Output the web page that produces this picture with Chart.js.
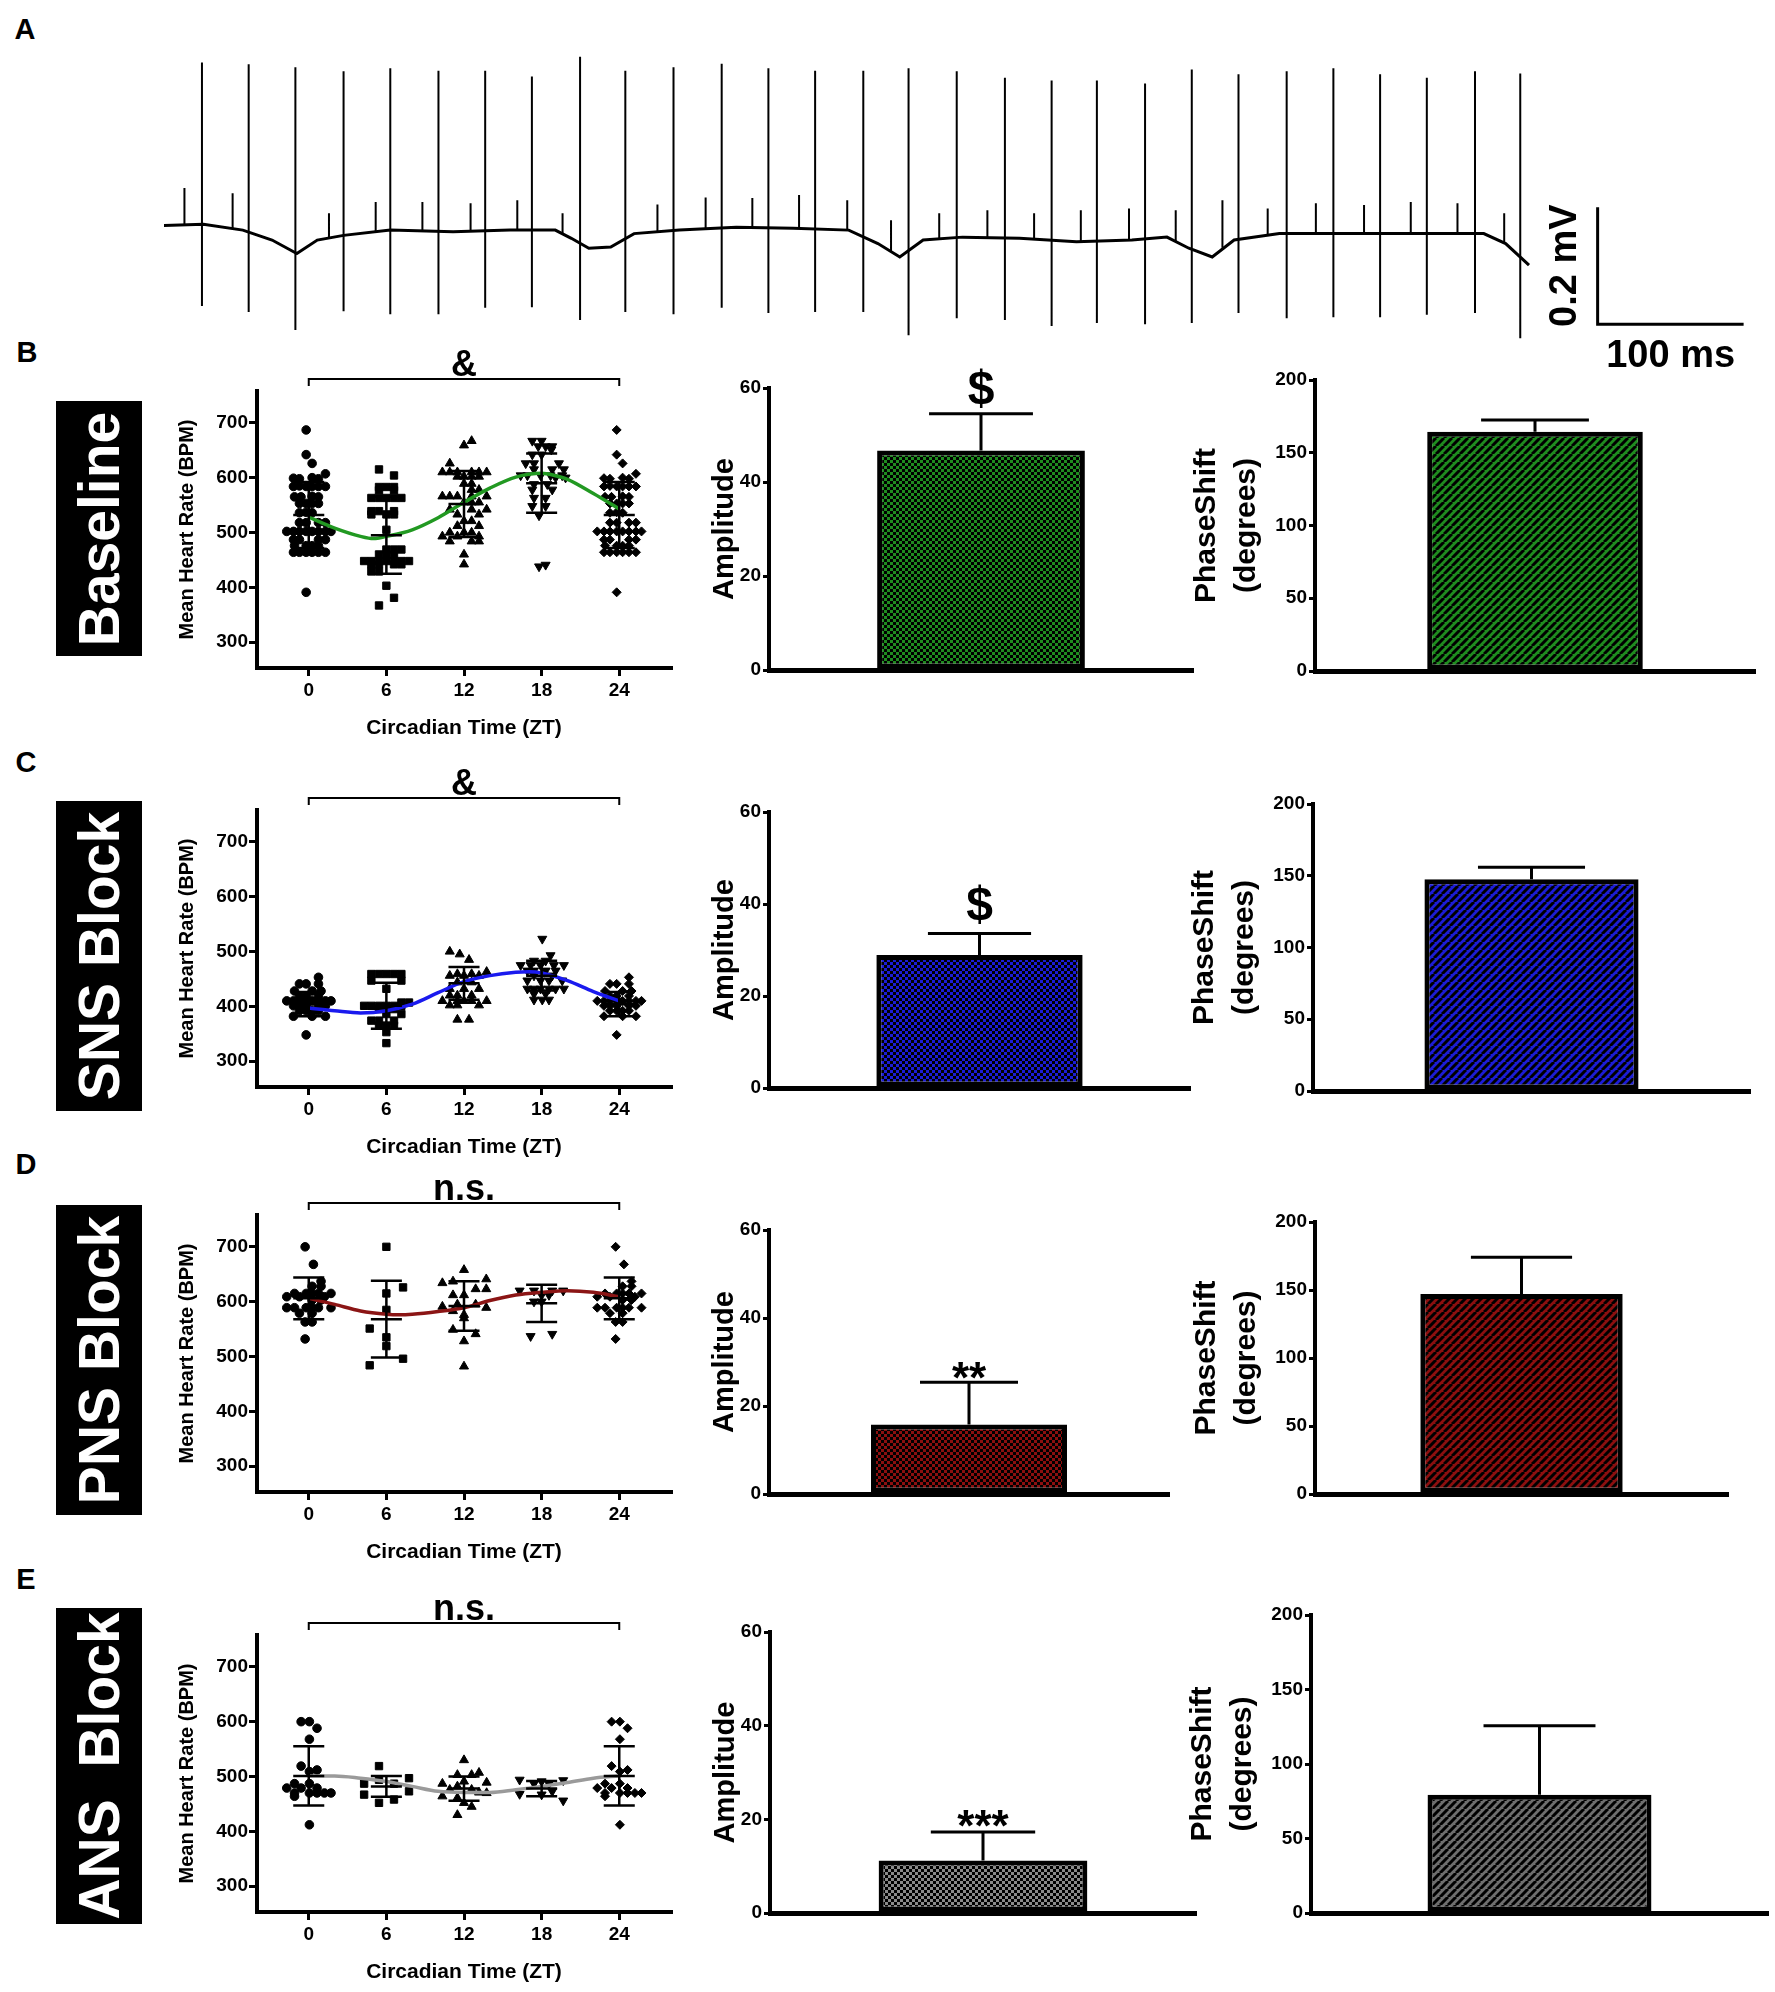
<!DOCTYPE html>
<html>
<head>
<meta charset="utf-8">
<script src="https://cdn.jsdelivr.net/npm/chart.js@4.4.1/dist/chart.umd.min.js"></script>
<style>
  html, body { margin: 0; padding: 0; background: #fff; }
  #fig { position: relative; width: 1775px; height: 1992px; overflow: hidden;
         font-family: "Liberation Sans", Arial, sans-serif; color: #000; }
  #fig canvas { position: absolute; }
  .letter { position: absolute; font-weight: bold; font-size: 29px; transform: translate(-50%, -50%); }
  .tag { position: absolute; background: #000; }
  .tag span { position: absolute; left: 50%; top: 50%; color: #fff; font-weight: bold; font-size: 57px;
              white-space: pre; transform: translate(-50%, -50%) rotate(-90deg); }
</style>
</head>
<body>
<div id="fig"></div>
<script>
// ---------- panel A: ECG trace (time in ms, voltage in mV) ----------
const ecgBeatTimes = [26, 58, 90, 123, 155, 188, 220, 252, 285, 316, 349, 382, 414, 446, 479,
                      510, 543, 576, 608, 639, 672, 704, 736, 769, 801, 833, 865, 898, 929];
const ecgBeatTops = [0.282, 0.279, 0.274, 0.267, 0.272, 0.268, 0.268, 0.258, 0.292, 0.268, 0.274, 0.280, 0.272, 0.268, 0.268,
                     0.272, 0.267, 0.256, 0.251, 0.251, 0.246, 0.270, 0.262, 0.267, 0.272, 0.262, 0.256, 0.267, 0.263];
const ecgBeatBottoms = [-0.135, -0.145, -0.176, -0.144, -0.149, -0.149, -0.138, -0.137, -0.159, -0.145, -0.149, -0.138, -0.147, -0.145, -0.145,
                        -0.185, -0.156, -0.159, -0.169, -0.164, -0.166, -0.164, -0.147, -0.156, -0.154, -0.154, -0.150, -0.147, -0.190];
// small waves between beats: time, foot and peak
const ecgBlipTimes = [14, 47, 113, 145, 177, 210, 242, 273, 338, 371, 403, 435, 468, 498,
                      531, 564, 596, 628, 661, 693, 725, 756, 789, 822, 854, 886, 918];
const ecgBlipBases = [0.004, -0.002, -0.018, -0.008, -0.006, -0.007, -0.005, -0.010, -0.008, -0.003, 0, -0.003, -0.005, -0.042,
                      -0.020, -0.018, -0.020, -0.025, -0.022, -0.025, -0.035, -0.013, -0.011, -0.011, -0.011, -0.011, -0.027];
const ecgBlipTops = [0.067, 0.058, 0.024, 0.043, 0.043, 0.041, 0.046, 0.024, 0.039, 0.051, 0.050, 0.055, 0.046, 0.012,
                     0.024, 0.029, 0.024, 0.029, 0.032, 0.029, 0.046, 0.032, 0.041, 0.038, 0.043, 0.041, 0.024];
const ecgBaseline = [[0, 0.003], [27, 0.005], [54, -0.005], [74, -0.022], [91, -0.045], [105, -0.022], [123, -0.014],
                     [155, -0.005], [198, -0.008], [237, -0.005], [268, -0.005], [279, -0.019], [291, -0.036], [306, -0.034],
                     [322, -0.011], [353, -0.005], [392, 0], [431, -0.002], [469, -0.005], [489, -0.028], [504, -0.051],
                     [520, -0.022], [547, -0.017], [586, -0.019], [625, -0.025], [663, -0.022], [687, -0.017], [702, -0.036],
                     [718, -0.051], [733, -0.022], [764, -0.011], [818, -0.011], [881, -0.011], [904, -0.011], [919, -0.028], [935, -0.065]];
const scaleBar = [[982, 0.034], [982, -0.166], [1082, -0.166]];
const scaleBarLabels = ['0.2 mV', '100 ms'];

// ---------- panels B-E: heart rate by circadian time ----------
const ztTicks = [0, 6, 12, 18, 24];
const hrTicks = [300, 400, 500, 600, 700];
// each point: [horizontal spread in ZT units as plotted, BPM]
const blZT0 = [[-0.2, 687], [-0.2, 642], [0.26, 626], [1.29, 607], [-1.18, 599], [-0.72, 598], [0.26, 600], [0.75, 598],
  [-1.18, 584], [-0.72, 585], [-0.2, 584], [0.26, 584], [0.75, 584], [1.29, 584], [-1.1, 565], [-0.6, 565], [0.26, 566], [0.75, 565],
  [-0.72, 553], [-0.2, 553], [0.26, 553], [0.75, 553], [-0.72, 536], [-0.2, 537], [0.26, 536],
  [-0.72, 518], [-0.2, 518], [0.75, 518], [1.29, 518], [-1.7, 502], [-1.18, 502], [-0.72, 502], [-0.2, 502], [0.26, 502], [0.75, 502], [1.29, 502], [1.72, 502],
  [-1.18, 487], [-0.72, 487], [0.75, 487], [1.29, 487], [-1.1, 476], [-0.2, 476], [0.26, 476], [0.75, 476],
  [-1.18, 464], [-0.72, 464], [-0.2, 464], [0.26, 464], [0.75, 464], [1.29, 464], [-0.2, 391]];
const blZT6 = [[-0.57, 615], [0.59, 604], [-0.57, 583], [0, 583], [0.59, 583], [-0.57, 577], [0.59, 577],
  [-1.16, 563], [-0.57, 563], [0, 563], [0.59, 563], [1.16, 563], [-1.16, 539], [-0.57, 539], [0.59, 539],
  [-1.16, 533], [0, 533], [0.59, 533], [0, 505], [0, 469], [0.59, 469], [1.16, 469], [-0.57, 460], [0, 460], [0.59, 460],
  [-1.72, 448], [-1.16, 448], [-0.57, 448], [0, 448], [0.59, 448], [1.16, 448], [1.75, 448],
  [-1.16, 442], [-0.57, 442], [0.59, 442], [1.16, 442], [-1.16, 429], [-0.57, 429], [0, 403], [0.59, 381], [-0.57, 367]];
const blZT12 = [[0.59, 667], [0, 659], [-1.1, 626], [-1.67, 610], [-1.1, 610], [-0.51, 610], [0.59, 610], [1.16, 610], [1.75, 610],
  [-0.51, 602], [0, 602], [0.59, 602], [1.16, 602], [0, 589], [0.59, 589], [0.59, 578], [1.16, 578],
  [-1.67, 566], [-1.1, 566], [-0.51, 566], [0.59, 566], [1.75, 566], [0, 555], [0.59, 555], [1.16, 555],
  [-1.1, 542], [0.59, 542], [1.75, 542], [-0.51, 533], [1.16, 533], [0, 521], [0.59, 521], [-0.51, 512], [1.16, 512],
  [-1.1, 500], [0, 500], [0.59, 500], [-1.67, 493], [-0.51, 493], [1.16, 493], [-1.1, 484], [0.59, 484], [1.16, 484], [0, 460], [0, 442]];
const blZT18 = [[-0.72, 667], [0, 667], [-0.26, 657], [0.31, 657], [0.82, 657], [0.75, 651], [-0.72, 642], [0, 642],
  [-1.23, 626], [-0.59, 626], [1.34, 626], [-0.59, 615], [0.82, 615], [1.72, 615],
  [-1.62, 604], [-1.1, 604], [-0.08, 604], [0.69, 604], [1.59, 604], [1.08, 600], [1.85, 600],
  [-0.59, 588], [0.44, 588], [-0.72, 578], [0.82, 578], [-0.59, 563], [0.31, 563], [-0.72, 548], [0.31, 548],
  [-0.2, 531], [-0.2, 438], [0.31, 441]];
const blFit = [[0, 528], [2, 508], [4, 493], [5, 489], [6, 493], [8, 505], [10, 527], [12, 555], [14, 581],
  [16, 601], [18, 608], [19, 604], [20, 597], [22, 571], [24, 543]];
const blMean = [532, 495, 552, 590, 532];
const blSD = [60, 70, 60, 54, 60];

const snsZT0 = [[0.75, 453], [-0.72, 441], [-0.2, 441], [0.75, 441], [-1.1, 428], [0.26, 428], [0.95, 428],
  [-0.72, 419], [-0.2, 419], [0.75, 419], [-1.7, 410], [-1.18, 410], [-0.72, 410], [-0.2, 410], [0.26, 410], [0.75, 410], [1.29, 410], [1.72, 410],
  [-1.18, 401], [-0.72, 401], [-0.2, 401], [0.75, 401], [1.29, 401], [-0.72, 392], [-0.2, 392], [0.26, 392], [0.75, 392],
  [-1.18, 382], [0.26, 382], [1.29, 382], [-0.2, 348]];
const snsZT6 = [[-1.16, 459], [-0.57, 459], [0, 459], [0.59, 459], [1.16, 459], [-1.16, 447], [1.16, 447], [0, 432],
  [1.16, 407], [1.75, 407], [-1.72, 401], [-1.16, 401], [-0.57, 401], [0, 401], [0.59, 401], [1.16, 401],
  [-0.57, 395], [0.59, 395], [0, 386], [1.16, 386], [-1.16, 374], [-0.57, 374], [0.59, 374],
  [-0.57, 365], [0, 365], [0.59, 365], [0, 353], [0, 333]];
const snsZT12 = [[-1.1, 500], [-0.33, 495], [0.39, 485], [1.75, 463], [-0.51, 459], [0.59, 459], [-1.1, 456], [0, 456], [1.16, 456],
  [-0.51, 444], [0.59, 444], [-1.1, 432], [0, 432], [1.16, 432], [-1.1, 420], [-0.51, 420], [0.59, 420],
  [-1.67, 410], [-0.51, 410], [0, 410], [0.59, 410], [1.75, 410], [-1.1, 402], [-0.51, 402], [1.16, 402], [-0.51, 376], [0.39, 376]];
const snsZT18 = [[0.05, 523], [0.69, 493], [-0.59, 483], [0.31, 483], [-1.62, 475], [-0.85, 475], [-0.08, 475], [0.95, 475], [1.72, 475],
  [-1.1, 465], [-0.59, 465], [0.31, 465], [1.08, 465], [-0.59, 456], [0.82, 456], [-1.1, 447], [-0.08, 447], [0.57, 447], [1.59, 447],
  [-1.1, 432], [-0.59, 432], [-0.08, 432], [0.57, 432], [1.08, 432], [1.72, 432], [-0.59, 423], [0.31, 423],
  [-0.59, 412], [0.05, 412], [0.57, 412]];
const snsFit = [[0, 397], [2, 392], [4, 388], [6, 392], [8, 404], [10, 425], [12, 445], [14, 456], [16, 462],
  [17, 463], [18, 461], [20, 447], [22, 427], [24, 410]];
const snsMean = [404, 401, 442, 456, 404];
const snsSD = [22, 42, 30, 27, 22];

const pnsZT0 = [[-0.28, 700], [0.36, 668], [0.95, 637], [0.26, 628], [0.95, 628], [-1.1, 615], [-0.2, 615], [0.26, 615], [0.75, 615], [1.72, 615],
  [-1.7, 609], [-0.72, 609], [1.21, 609], [0.26, 603], [0.95, 603], [-1.7, 589], [-1.1, 589], [-0.2, 589], [0.26, 589], [0.75, 589], [1.72, 589],
  [-0.72, 579], [0.26, 579], [-0.28, 563], [0.26, 563], [-0.28, 532]];
const pnsZT6 = [[0, 700], [1.29, 626], [0, 615], [0, 585], [-1.29, 551], [0, 535], [0, 519], [1.29, 496], [-1.29, 484]];
const pnsZT12 = [[0, 658], [-1.67, 634], [-0.85, 637], [1.72, 641], [0.9, 623], [1.72, 623], [-0.85, 612], [0, 612],
  [-1.67, 591], [-0.51, 595], [0.9, 595], [1.72, 589], [-0.85, 583], [0, 576], [0, 570], [-0.85, 549], [0.9, 541], [0, 528], [0, 482]];
const pnsZT18 = [[-1.7, 620], [-0.59, 620], [0.82, 620], [1.67, 620], [0, 612], [0.57, 612], [-0.59, 600], [0, 600], [-0.85, 537], [0.82, 541]];
const pnsFit = [[0, 606], [2, 595], [4, 583], [6, 577], [7, 576], [8, 577], [10, 582], [12, 589], [14, 602],
  [16, 612], [18, 617], [20, 620], [22, 617], [24, 609]];
const pnsMean = [606, 568, 592, 597, 606];
const pnsSD = [38, 70, 45, 34, 38];

const ansZT0 = [[-0.59, 600], [0.05, 600], [0.64, 588], [0.05, 568], [-0.59, 519], [0.64, 512], [0.05, 509], [-1.1, 487], [0.05, 487],
  [-1.7, 479], [-0.59, 479], [0.64, 479], [-1.1, 470], [0.05, 470], [0.64, 470], [1.21, 470], [1.72, 470], [-1.1, 464], [0.05, 412]];
const ansZT6 = [[-0.57, 519], [-0.57, 494], [1.75, 497], [-1.72, 487], [0.59, 487], [-1.72, 467], [1.75, 473], [-0.57, 452], [0.59, 458]];
const ansZT12 = [[0, 530], [-0.51, 503], [0.59, 503], [1.16, 507], [-1.67, 487], [0, 491], [1.75, 489], [-1.1, 476], [0.59, 476], [-0.51, 482],
  [-1.67, 464], [1.16, 471], [1.75, 470], [-0.51, 461], [0, 452], [0.59, 445], [-0.51, 430]];
const ansZT18 = [[-1.7, 494], [-0.59, 487], [0, 491], [0.57, 487], [1.67, 493], [-1.7, 468], [0.82, 473], [0, 467], [1.67, 456]];
const ansFit = [[0, 501], [2, 501], [4, 497], [6, 491], [8, 482], [10, 473], [12, 471], [14, 471], [16, 476],
  [18, 482], [20, 489], [22, 497], [24, 501]];
const ansMean = [501, 482, 478, 478, 501];
const ansSD = [54, 19, 22, 14, 54];

// ---------- amplitude and phase shift bars (mean, upper error) ----------
const ampTicks = [0, 20, 40, 60];
const phaseTicks = [0, 50, 100, 150, 200];
const ampValue = [46.7, 28.9, 15.8, 11.2];
const ampErr = [7.8, 4.7, 9.6, 6.1];
const ampMarks = ['$', '$', '**', '***'];
const phaseValue = [164.4, 147.6, 147.0, 79.3];
const phaseErr = [8.1, 8.4, 27.0, 46.3];
const rhythmMarks = ['&', '&', 'n.s.', 'n.s.'];
const rowNames = ['Baseline', 'SNS Block', 'PNS Block', 'ANS  Block'];
const rowLetters = ['B', 'C', 'D', 'E'];

// ---------- layout and styling (page pixels) ----------
const rowLayout = [
  { scatter: [257, 391, 671, 668], amp: [769, 388, 1193, 670], phase: [1315, 380, 1755, 671], tag: [56, 401, 86, 255], letter: [27, 352], markDy: -10 },
  { scatter: [257, 810, 671, 1087], amp: [769, 812, 1190, 1088], phase: [1313, 804, 1750, 1091], tag: [56, 801, 86, 310], letter: [26, 762], markDy: -13 },
  { scatter: [257, 1215, 671, 1492], amp: [769, 1230, 1169, 1494], phase: [1315, 1222, 1728, 1494], tag: [56, 1205, 86, 310], letter: [26, 1164], markDy: 11 },
  { scatter: [257, 1635, 671, 1912], amp: [770, 1632, 1196, 1913], phase: [1311, 1615, 1768, 1913], tag: [56, 1608, 86, 316], letter: [26, 1579], markDy: 9 },
];
const rowColors = [
  { fill: '#1f8c1f', line: '#229922' },
  { fill: '#1c1cd6', line: '#1a1aee' },
  { fill: '#8c0f0f', line: '#8b1515' },
  { fill: '#8a8a8a', stripe: '#6e6e6e', line: '#9a9a9a' },
];
const markers = [
  { pointStyle: 'circle', pointRadius: 4.3, pointRotation: 0 },
  { pointStyle: 'rect', pointRadius: 5.2, pointRotation: 0 },
  { pointStyle: 'triangle', pointRadius: 5.2, pointRotation: 0 },
  { pointStyle: 'triangle', pointRadius: 5.2, pointRotation: 180 },
  { pointStyle: 'rectRot', pointRadius: 4.5, pointRotation: 0 },
];
const FONT = "'Liberation Sans', Arial, sans-serif";

Chart.defaults.font.family = FONT;
Chart.defaults.font.weight = 'bold';
Chart.defaults.font.size = 19;
Chart.defaults.color = '#000';
Chart.defaults.animation = false;
Chart.defaults.events = [];
Chart.defaults.plugins.legend.display = false;
Chart.defaults.plugins.tooltip.enabled = false;

const fig = document.getElementById('fig');

function placeCanvas(area, m) {
  const c = document.createElement('canvas');
  const w = area[2] - area[0] + m.l + m.r;
  const h = area[3] - area[1] + m.t + m.b;
  c.width = w;
  c.height = h;
  c.style.left = (area[0] - m.l) + 'px';
  c.style.top = (area[1] - m.t) + 'px';
  c.style.width = w + 'px';
  c.style.height = h + 'px';
  fig.appendChild(c);
  return c;
}

// fixed axis boxes so the plot area lands exactly where it should
const fixY = w => s => { s.width = w; s.paddingTop = 0; s.paddingBottom = 0; };
const fixX = h => s => { s.height = h; s.paddingLeft = 0; s.paddingRight = 0; };
const useTicks = list => s => { s.ticks = list.map(v => ({ value: v })); };

function checker(color) {
  const t = document.createElement('canvas');
  t.width = t.height = 6;
  const g = t.getContext('2d');
  g.fillStyle = color;
  g.fillRect(0, 0, 6, 6);
  g.fillStyle = '#000';
  g.fillRect(0, 0, 3, 3);
  g.fillRect(3, 3, 3, 3);
  return g.createPattern(t, 'repeat');
}

function stripes(color) {
  const s = 8;
  const t = document.createElement('canvas');
  t.width = t.height = s;
  const g = t.getContext('2d');
  g.fillStyle = color;
  g.fillRect(0, 0, s, s);
  g.strokeStyle = '#000';
  g.lineWidth = 3;
  g.beginPath();
  for (const o of [-s, 0, s]) {
    g.moveTo(o, s);
    g.lineTo(o + s, 0);
  }
  g.stroke();
  return g.createPattern(t, 'repeat');
}

// mean/SD bars and the rhythm bracket on the scatter panels
const scatterMarks = {
  id: 'scatterMarks',
  afterDatasetsDraw(chart, args, o) {
    const { ctx, chartArea, scales: { x, y } } = chart;
    ctx.save();
    ctx.strokeStyle = '#000';
    ctx.lineWidth = 2.5;
    ctx.beginPath();
    o.mean.forEach((m, i) => {
      const cx = x.getPixelForValue(ztTicks[i]);
      const half = x.getPixelForValue(ztTicks[i] + 1.2) - cx;
      const yt = y.getPixelForValue(m + o.sd[i]);
      const ym = y.getPixelForValue(m);
      const yb = y.getPixelForValue(m - o.sd[i]);
      ctx.moveTo(cx, yt);
      ctx.lineTo(cx, yb);
      [yt, ym, yb].forEach(yy => { ctx.moveTo(cx - half, yy); ctx.lineTo(cx + half, yy); });
    });
    ctx.stroke();

    const x0 = x.getPixelForValue(ztTicks[0]);
    const x1 = x.getPixelForValue(ztTicks[ztTicks.length - 1]);
    const by = chartArea.top - 12;
    ctx.lineWidth = 2;
    ctx.beginPath();
    ctx.moveTo(x0, by + 7);
    ctx.lineTo(x0, by);
    ctx.lineTo(x1, by);
    ctx.lineTo(x1, by + 7);
    ctx.stroke();
    ctx.fillStyle = '#000';
    ctx.font = `bold 36px ${FONT}`;
    ctx.textAlign = 'center';
    ctx.textBaseline = 'alphabetic';
    ctx.fillText(o.label, (x0 + x1) / 2, by - 3);
    ctx.restore();
  }
};

// upper error bar and significance mark on the bar panels
const barMarks = {
  id: 'barMarks',
  afterDatasetsDraw(chart, args, o) {
    const { ctx, scales: { y } } = chart;
    const bar = chart.getDatasetMeta(0).data[0];
    const top = y.getPixelForValue(o.value + o.err);
    ctx.save();
    ctx.strokeStyle = '#000';
    ctx.lineWidth = 3;
    ctx.beginPath();
    ctx.moveTo(bar.x, bar.y);
    ctx.lineTo(bar.x, top);
    ctx.moveTo(bar.x - bar.width / 4, top);
    ctx.lineTo(bar.x + bar.width / 4, top);
    ctx.stroke();
    if (o.mark) {
      ctx.fillStyle = '#000';
      ctx.font = `bold ${o.mark === '$' ? 48 : 44}px ${FONT}`;
      ctx.textAlign = 'center';
      ctx.textBaseline = 'alphabetic';
      ctx.fillText(o.mark, bar.x, top + o.markDy);
    }
    ctx.restore();
  }
};

const ecgLabels = {
  id: 'ecgLabels',
  afterDatasetsDraw(chart) {
    const { ctx, scales: { x, y } } = chart;
    const vx = x.getPixelForValue(scaleBar[0][0]);
    const vy = (y.getPixelForValue(scaleBar[0][1]) + y.getPixelForValue(scaleBar[1][1])) / 2;
    const hx = x.getPixelForValue((scaleBar[1][0] + scaleBar[2][0]) / 2);
    const hy = y.getPixelForValue(scaleBar[2][1]);
    ctx.save();
    ctx.fillStyle = '#000';
    ctx.font = `bold 38px ${FONT}`;
    ctx.textAlign = 'center';
    ctx.textBaseline = 'middle';
    ctx.fillText(scaleBarLabels[1], hx, hy + 32);
    ctx.translate(vx - 32, vy);
    ctx.rotate(-Math.PI / 2);
    ctx.fillText(scaleBarLabels[0], 0, 0);
    ctx.restore();
  }
};

function yAxis(opts) {
  return {
    min: opts.min, max: opts.max,
    afterBuildTicks: useTicks(opts.ticks),
    afterFit: fixY(opts.width),
    ticks: { padding: opts.tickPad, font: { size: 19, weight: 'bold' } },
    grid: { display: true, drawOnChartArea: false, drawTicks: true, tickLength: opts.tickLength, lineWidth: 3, color: '#000' },
    border: { display: true, width: 4, color: '#000' },
    title: { display: true, text: opts.title, font: opts.titleFont, padding: { top: opts.titlePad, bottom: 0 } },
  };
}

// ---------- panel A ----------
function drawEcg() {
  const area = [164, 52, 1748, 344];
  const m = { l: 10, t: 32, r: 20, b: 45 };
  const spikes = [];
  ecgBeatTimes.forEach((t, i) => {
    spikes.push({ x: t, y: ecgBeatBottoms[i] }, { x: t, y: ecgBeatTops[i] }, { x: t, y: NaN });
  });
  const blips = [];
  ecgBlipTimes.forEach((t, i) => {
    blips.push({ x: t, y: ecgBlipBases[i] }, { x: t, y: ecgBlipTops[i] }, { x: t, y: NaN });
  });
  const line = { showLine: true, pointRadius: 0, borderColor: '#000', spanGaps: false };
  new Chart(placeCanvas(area, m), {
    type: 'scatter',
    data: {
      datasets: [
        { ...line, data: ecgBaseline.map(([x, y]) => ({ x, y })), borderWidth: 3 },
        { ...line, data: spikes, borderWidth: 2 },
        { ...line, data: blips, borderWidth: 2 },
        { ...line, data: scaleBar.map(([x, y]) => ({ x, y })), borderWidth: 3 },
      ]
    },
    options: {
      responsive: false, devicePixelRatio: 1,
      layout: { padding: { left: m.l, top: m.t, right: m.r, bottom: m.b } },
      scales: {
        x: { type: 'linear', min: 0, max: 1085, display: false },
        y: { type: 'linear', min: -0.2, max: 0.3, display: false },
      }
    },
    plugins: [ecgLabels]
  });
}

// ---------- panels B-E ----------
function drawScatter(row, groups, fit, mean, sd) {
  const L = rowLayout[row];
  const m = { l: 97, t: 75, r: 8, b: 80 };
  const datasets = [{
    data: fit.map(([x, y]) => ({ x, y })), showLine: true, pointRadius: 0,
    borderColor: rowColors[row].line, borderWidth: 3.5, cubicInterpolationMode: 'monotone'
  }];
  groups.forEach((g, i) => {
    datasets.push({
      data: g.map(([dx, v]) => ({ x: ztTicks[i] + dx, y: v })),
      ...markers[i], backgroundColor: '#000', pointBackgroundColor: '#000',
      borderColor: '#000', pointBorderWidth: 1
    });
  });
  new Chart(placeCanvas(L.scatter, m), {
    type: 'scatter',
    data: { datasets },
    options: {
      responsive: false, devicePixelRatio: 1,
      layout: { padding: { left: 0, top: m.t, right: m.r, bottom: 0 } },
      scales: {
        x: {
          type: 'linear', min: -4, max: 28,
          afterBuildTicks: useTicks(ztTicks),
          afterFit: fixX(m.b),
          ticks: { padding: 3, maxRotation: 0, autoSkip: false, font: { size: 19, weight: 'bold' } },
          grid: { display: true, drawOnChartArea: false, drawTicks: true, tickLength: 8, lineWidth: 3, color: '#000' },
          border: { display: true, width: 4, color: '#000' },
          title: { display: true, text: 'Circadian Time (ZT)', font: { size: 21, weight: 'bold' }, padding: { top: 0, bottom: 7 } },
        },
        y: yAxis({ min: 253, max: 758, ticks: hrTicks, width: m.l, tickPad: 1, tickLength: 8,
                   title: 'Mean Heart Rate (BPM)', titleFont: { size: 20, weight: 'bold' }, titlePad: 15 }),
      },
      plugins: { scatterMarks: { mean, sd, label: rhythmMarks[row] } }
    },
    plugins: [scatterMarks]
  });
}

function drawBar(area, m, fill, value, err, mark, markDy, yOpts) {
  new Chart(placeCanvas(area, m), {
    type: 'bar',
    data: {
      labels: [''],
      datasets: [{ data: [value], backgroundColor: fill, borderColor: '#000', borderWidth: 5,
                   borderSkipped: false, barPercentage: 0.49, categoryPercentage: 1 }]
    },
    options: {
      responsive: false, devicePixelRatio: 1,
      layout: { padding: { left: 0, top: m.t, right: m.r, bottom: 0 } },
      scales: {
        x: {
          afterFit: fixX(m.b),
          ticks: { display: false },
          grid: { display: false },
          border: { display: true, width: 5, color: '#000' },
        },
        y: yAxis(yOpts),
      },
      plugins: { barMarks: { value, err, mark, markDy } }
    },
    plugins: [barMarks]
  });
}

function drawRow(row) {
  const L = rowLayout[row];
  const c = rowColors[row];

  const letter = document.createElement('div');
  letter.className = 'letter';
  letter.textContent = rowLetters[row];
  letter.style.left = L.letter[0] + 'px';
  letter.style.top = L.letter[1] + 'px';
  fig.appendChild(letter);

  const tag = document.createElement('div');
  tag.className = 'tag';
  tag.style.left = L.tag[0] + 'px';
  tag.style.top = L.tag[1] + 'px';
  tag.style.width = L.tag[2] + 'px';
  tag.style.height = L.tag[3] + 'px';
  const span = document.createElement('span');
  span.textContent = rowNames[row];
  tag.appendChild(span);
  fig.appendChild(tag);

  const ampM = { l: 80, t: 60, r: 5, b: 15 };
  drawBar(L.amp, ampM, checker(c.fill), ampValue[row], ampErr[row], ampMarks[row], L.markDy,
    { min: 0, max: 60, ticks: ampTicks, width: ampM.l, tickPad: 2, tickLength: 6,
      title: 'Amplitude', titleFont: { size: 29, weight: 'bold' }, titlePad: 19 });

  const phM = { l: 135, t: 30, r: 5, b: 15 };
  drawBar(L.phase, phM, stripes(c.stripe || c.fill), phaseValue[row], phaseErr[row], '', 0,
    { min: 0, max: 200, ticks: phaseTicks, width: phM.l, tickPad: 2, tickLength: 6,
      title: ['PhaseShift', '(degrees)'], titleFont: { size: 30, weight: 'bold', lineHeight: 1.35 }, titlePad: 6 });
}

const letterA = document.createElement('div');
letterA.className = 'letter';
letterA.textContent = 'A';
letterA.style.left = '25px';
letterA.style.top = '29px';
fig.appendChild(letterA);

drawEcg();
drawScatter(0, [blZT0, blZT6, blZT12, blZT18, blZT0], blFit, blMean, blSD);
drawScatter(1, [snsZT0, snsZT6, snsZT12, snsZT18, snsZT0], snsFit, snsMean, snsSD);
drawScatter(2, [pnsZT0, pnsZT6, pnsZT12, pnsZT18, pnsZT0], pnsFit, pnsMean, pnsSD);
drawScatter(3, [ansZT0, ansZT6, ansZT12, ansZT18, ansZT0], ansFit, ansMean, ansSD);
[0, 1, 2, 3].forEach(drawRow);
</script>
</body>
</html>
